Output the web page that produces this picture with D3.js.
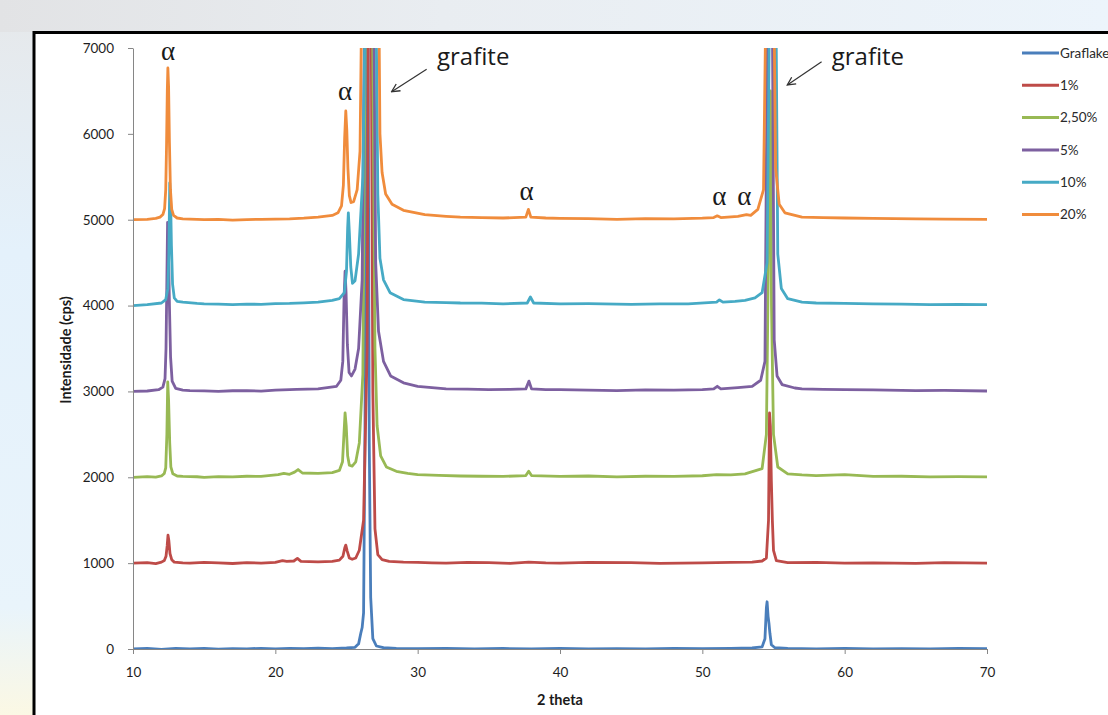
<!DOCTYPE html>
<html>
<head>
<meta charset="utf-8">
<script src="https://cdn.jsdelivr.net/npm/d3@7"></script>
<style>
  body { margin: 0; overflow: hidden; background: #ffffff; }
  svg { display: block; }
</style>
</head>
<body>
<svg id="chart" width="1108" height="715"></svg>
<script>
// series names and colours, in drawing order
var seriesNames = ['Graflake', '1%', '2,50%', '5%', '10%', '20%'];
var seriesColors = ['#4a7ebb', '#be4b48', '#98b954', '#7d60a0', '#46aac5', '#f08c3c'];

// [2 theta, cps]; 8000 means the peak runs past the top
var graflake = [[10,0],[11,8],[12,-4],[13,6],[14,0],[15,7],[16,-3],[17,5],[18,2],[19,8],[20,0],[21,6],[22,3],[23,9],[24,5],[25,12],
  [25.6,20],[25.85,60],[26.0,180],[26.1,250],[26.2,420],[26.3,2600],[26.4,8000],[26.5,8000],[26.6,2400],[26.7,600],[26.85,120],
  [27.1,35],[27.6,15],[28.5,8],[30,3],[32,8],[34,0],[36,6],[38,2],[40,7],[42,0],[44,5],[46,2],[48,7],[50,3],[52,8],[53.5,12],
  [54.2,25],[54.4,120],[54.5,480],[54.55,550],[54.62,380],[54.68,300],[54.75,180],[54.85,50],[55.1,15],[56,6],[58,2],[60,7],
  [62,0],[64,5],[66,2],[68,6],[70,3]];

var pct1 = [[10,1000],[11,1005],[11.6,995],[12,1012],[12.2,1030],[12.32,1080],[12.4,1200],[12.46,1326],[12.52,1260],[12.6,1110],
  [12.72,1040],[12.9,1012],[13.5,1003],[14,1000],[15,1008],[16,1002],[17,996],[18,1006],[19,1000],[20,1010],[20.5,1030],
  [20.8,1020],[21.3,1025],[21.55,1055],[21.8,1020],[23,1015],[24,1020],[24.5,1035],[24.75,1080],[24.88,1180],[24.95,1210],
  [25.05,1140],[25.2,1060],[25.4,1045],[25.65,1060],[25.9,1150],[26.2,1500],[26.45,3500],[26.55,8000],[26.72,8000],[26.85,3000],
  [27.0,1400],[27.2,1100],[27.5,1040],[28,1020],[29,1012],[30,1010],[31,1004],[32,1000],[33.5,1008],[35,1005],[36.5,998],
  [37.8,1012],[39,1002],[40,1000],[42,1008],[45,1005],[47,998],[50,1003],[52,1008],[53.5,1012],[54.2,1025],[54.5,1060],
  [54.65,1500],[54.72,2750],[54.78,2600],[54.85,1950],[54.92,1500],[55.0,1150],[55.2,1030],[56,1005],[58,1008],[60,1000],
  [62,1004],[65,998],[67,1005],[70,1000]];

var pct2_5 = [[10,2000],[11,2008],[11.6,2002],[12,2015],[12.2,2045],[12.3,2110],[12.38,2500],[12.44,3110],[12.5,2900],[12.58,2400],
  [12.66,2120],[12.8,2040],[13.1,2015],[13.5,2010],[14.5,2006],[15,2000],[16,2008],[17,2005],[18,2012],[19,2010],[20.2,2030],
  [20.6,2045],[21,2035],[21.35,2060],[21.6,2090],[21.9,2050],[23,2045],[24,2055],[24.5,2080],[24.72,2180],[24.82,2500],
  [24.9,2750],[24.98,2600],[25.08,2250],[25.2,2140],[25.4,2130],[25.65,2180],[25.9,2400],[26.15,3200],[26.35,8000],
  [26.8,8000],[27.0,3500],[27.15,2600],[27.4,2250],[27.8,2120],[28.5,2070],[29.3,2045],[30,2030],[31.5,2022],[33,2015],
  [34.5,2012],[36,2010],[37.6,2020],[37.8,2070],[38.0,2020],[40,2010],[42,2015],[44,2005],[46,2012],[48,2010],[50,2018],
  [51,2030],[52,2028],[53,2040],[54.2,2100],[54.5,2500],[54.64,4500],[54.7,6500],[54.78,6500],[54.86,4000],[55.0,2500],
  [55.3,2120],[56,2040],[57,2028],[58,2020],[60,2030],[62,2010],[64,2012],[66,2005],[68,2008],[70,2005]];

var pct5 = [[10,3000],[11,3005],[11.8,3020],[12.1,3050],[12.25,3150],[12.32,3500],[12.38,4300],[12.43,4970],[12.49,4750],
  [12.56,4000],[12.64,3400],[12.75,3120],[13,3035],[13.5,3015],[14,3010],[15,3006],[16,3000],[17,3008],[18,3010],[19,3004],
  [20,3015],[21.5,3025],[23,3030],[24.3,3060],[24.6,3130],[24.74,3350],[24.83,4100],[24.9,4400],[24.97,4150],[25.06,3550],
  [25.18,3220],[25.35,3180],[25.6,3260],[25.85,3500],[26.1,4300],[26.3,8000],[26.9,8000],[27.05,4500],[27.25,3700],[27.6,3350],
  [28.1,3180],[29,3100],[30,3060],[31,3045],[32,3030],[33.5,3028],[35,3020],[36.5,3025],[37.6,3030],[37.82,3120],[38.0,3030],
  [39,3022],[40,3020],[42,3015],[44,3010],[46,3018],[48,3015],[50,3022],[50.8,3030],[51.05,3060],[51.3,3030],[52.5,3045],
  [53.5,3060],[54.1,3130],[54.4,3350],[54.6,8000],[54.9,8000],[55.05,3600],[55.25,3180],[55.6,3080],[56.5,3040],[57,3030],
  [58.5,3025],[60,3020],[62,3018],[65,3010],[67,3012],[70,3005]];

var pct10 = [[10,4000],[11,4010],[12,4030],[12.3,4070],[12.45,4200],[12.52,4600],[12.58,5430],[12.64,5250],[12.7,4700],[12.78,4250],
  [12.9,4090],[13.1,4050],[13.5,4040],[14.5,4025],[15,4020],[16,4018],[17,4010],[18,4016],[19,4015],[20,4022],[21,4025],
  [22,4032],[23,4040],[24,4060],[24.5,4080],[24.85,4150],[25.0,4400],[25.08,4900],[25.13,5080],[25.2,4850],[25.3,4450],
  [25.42,4260],[25.6,4290],[25.85,4600],[26.15,5500],[26.35,8000],[27.05,8000],[27.2,5300],[27.35,4550],[27.6,4300],
  [28.06,4150],[29,4070],[30.5,4040],[32,4035],[33,4030],[34.5,4028],[36,4020],[37.7,4030],[37.92,4100],[38.15,4030],
  [40,4020],[42,4022],[45,4015],[47,4020],[49,4020],[51,4040],[51.2,4065],[51.45,4040],[52.3,4048],[53,4060],[53.7,4090],
  [54.2,4150],[54.55,4500],[54.75,8000],[55.15,8000],[55.3,4600],[55.55,4200],[56,4080],[57,4040],[58,4030],[60,4025],
  [62,4020],[64,4018],[66,4010],[68,4014],[70,4010]];

var pct20 = [[10,5000],[11,5005],[11.6,5015],[11.9,5030],[12.1,5060],[12.22,5130],[12.3,5350],[12.36,5900],[12.41,6500],
  [12.45,6767],[12.5,6550],[12.56,5900],[12.63,5350],[12.72,5120],[12.85,5050],[13.1,5020],[13.5,5010],[14,5006],[15,5000],
  [16,5004],[17,4995],[18,5002],[19,5005],[20,5008],[21,5010],[22,5018],[23,5030],[24,5050],[24.4,5080],[24.65,5160],
  [24.78,5400],[24.87,5950],[24.95,6266],[25.02,6050],[25.1,5600],[25.2,5280],[25.32,5200],[25.5,5210],[25.75,5350],
  [25.95,5800],[26.1,8000],[27.25,8000],[27.35,6000],[27.5,5550],[27.75,5300],[28.2,5180],[29,5110],[30.5,5060],[32,5040],
  [33,5030],[34.5,5025],[36,5020],[37.6,5030],[37.78,5120],[37.95,5030],[39,5020],[40,5015],[42,5012],[44,5005],[46,5012],
  [48,5010],[50,5018],[50.8,5025],[51.05,5045],[51.3,5025],[52.5,5040],[53.1,5060],[53.4,5050],[53.9,5120],[54.3,5350],
  [54.5,8000],[55.0,8000],[55.15,5600],[55.4,5180],[55.8,5080],[57,5030],[58.5,5025],[60,5020],[62,5015],[65,5010],
  [67,5008],[70,5005]];

var seriesData = [graflake, pct1, pct2_5, pct5, pct10, pct20];

var xTicks = [10, 20, 30, 40, 50, 60, 70];
var yTicks = [0, 1000, 2000, 3000, 4000, 5000, 6000, 7000];

// annotations: [2 theta, cps]
var alphaLabels = [[12.46, 6953], [24.9, 6487], [37.66, 5323], [51.19, 5264], [52.95, 5264]];
var grafiteLabels = [[31.36, 6802], [59.09, 6802]];
// arrows: [x1, y1, x2, y2] from the text towards the peak
var grafiteArrows = [[30.63, 6752, 28.17, 6491], [58.38, 6840, 55.97, 6569]];

var svg = d3.select('#chart');
var defs = svg.append('defs');

// soft slide background round the chart frame
var bgTop = defs.append('linearGradient').attr('id', 'bgTop');
bgTop.append('stop').attr('offset', '0%').attr('stop-color', '#e2e3e5');
bgTop.append('stop').attr('offset', '40%').attr('stop-color', '#e9edf1');
bgTop.append('stop').attr('offset', '100%').attr('stop-color', '#ecf4fb');
var bgLeft = defs.append('linearGradient').attr('id', 'bgLeft')
  .attr('x1', 0).attr('y1', 0).attr('x2', 0).attr('y2', 1);
bgLeft.append('stop').attr('offset', '0%').attr('stop-color', '#e6e8ea');
bgLeft.append('stop').attr('offset', '35%').attr('stop-color', '#e4f1fb');
bgLeft.append('stop').attr('offset', '85%').attr('stop-color', '#e9f4fb');
bgLeft.append('stop').attr('offset', '100%').attr('stop-color', '#fbf8e4');

svg.append('rect').attr('width', 1108).attr('height', 715).attr('fill', 'url(#bgLeft)');
svg.append('rect').attr('width', 1108).attr('height', 32).attr('fill', 'url(#bgTop)');

// chart frame, running off the right and bottom edges
svg.append('rect')
  .attr('x', 34).attr('y', 32.5)
  .attr('width', 1120).attr('height', 720)
  .attr('fill', '#ffffff')
  .attr('stroke', '#000000')
  .attr('stroke-width', 3);

var margin = { left: 133, top: 48, right: 987, bottom: 649 };

var x = d3.scaleLinear().domain([10, 70]).range([margin.left, margin.right]);
var y = d3.scaleLinear().domain([0, 7000]).range([margin.bottom, margin.top]);

defs.append('clipPath').attr('id', 'plotClip')
  .append('rect')
  .attr('x', margin.left).attr('y', margin.top)
  .attr('width', margin.right - margin.left)
  .attr('height', margin.bottom - margin.top);

var line = d3.line()
  .x(function(d) { return x(d[0]); })
  .y(function(d) { return y(d[1]); });

svg.append('g')
  .attr('clip-path', 'url(#plotClip)')
  .selectAll('path')
  .data(seriesData)
  .enter()
  .append('path')
    .attr('d', line)
    .attr('fill', 'none')
    .attr('stroke', function(d, i) { return seriesColors[i]; })
    .attr('stroke-width', 2.8)
    .attr('stroke-linejoin', 'round');

// axes
var axisFont = 'Lato, "Open Sans", sans-serif';

var yAxis = svg.append('g')
  .attr('transform', 'translate(' + margin.left + ',0)')
  .call(d3.axisLeft(y).tickValues(yTicks).tickFormat(d3.format('d'))
    .tickSize(5).tickSizeOuter(0).tickPadding(14));

var xAxis = svg.append('g')
  .attr('transform', 'translate(0,' + margin.bottom + ')')
  .call(d3.axisBottom(x).tickValues(xTicks).tickFormat(d3.format('d'))
    .tickSize(5).tickSizeOuter(0).tickPadding(13));

[xAxis, yAxis].forEach(function(ax) {
  ax.select('.domain').attr('stroke', '#868686').attr('stroke-width', 1);
  ax.selectAll('.tick line').attr('stroke', '#868686');
  ax.selectAll('.tick text')
    .attr('fill', '#1e1e1e')
    .style('font-family', axisFont)
    .style('font-size', '13.5px');
});

svg.append('text')
  .attr('transform', 'translate(71,350) rotate(-90)')
  .attr('text-anchor', 'middle')
  .style('font-family', axisFont)
  .style('font-size', '14.5px')
  .style('font-weight', 'bold')
  .attr('fill', '#1a1a1a')
  .text('Intensidade (cps)');

svg.append('text')
  .attr('x', (margin.left + margin.right) / 2)
  .attr('y', 705)
  .attr('text-anchor', 'middle')
  .style('font-family', axisFont)
  .style('font-size', '14.5px')
  .style('font-weight', 'bold')
  .attr('fill', '#1a1a1a')
  .text('2 theta');

// annotations
svg.selectAll('.alpha')
  .data(alphaLabels)
  .enter()
  .append('text')
    .attr('class', 'alpha')
    .attr('x', function(d) { return x(d[0]); })
    .attr('y', function(d) { return y(d[1]); })
    .attr('dy', '0.3em')
    .attr('text-anchor', 'middle')
    .style('font-family', '"Liberation Serif", "DejaVu Serif", serif')
    .style('font-size', '27px')
    .attr('fill', '#1a1a1a')
    .text('α');

svg.selectAll('.grafite')
  .data(grafiteLabels)
  .enter()
  .append('text')
    .attr('class', 'grafite')
    .attr('x', function(d) { return x(d[0]); })
    .attr('y', function(d) { return y(d[1]); })
    .style('font-family', '"Open Sans", sans-serif')
    .style('font-size', '24px')
    .attr('fill', '#1a1a1a')
    .text('grafite');

defs.append('marker')
  .attr('id', 'arrowHead')
  .attr('viewBox', '0 0 10 10')
  .attr('refX', 9).attr('refY', 5)
  .attr('markerWidth', 10).attr('markerHeight', 10)
  .attr('markerUnits', 'userSpaceOnUse')
  .attr('orient', 'auto')
  .append('path')
    .attr('d', 'M1,1 L9,5 L1,9')
    .attr('fill', 'none')
    .attr('stroke', '#333333')
    .attr('stroke-width', 1.3);

svg.selectAll('.arrow')
  .data(grafiteArrows)
  .enter()
  .append('line')
    .attr('class', 'arrow')
    .attr('x1', function(d) { return x(d[0]); })
    .attr('y1', function(d) { return y(d[1]); })
    .attr('x2', function(d) { return x(d[2]); })
    .attr('y2', function(d) { return y(d[3]); })
    .attr('stroke', '#333333')
    .attr('stroke-width', 1.2)
    .attr('marker-end', 'url(#arrowHead)');

// legend
var legend = svg.append('g').attr('transform', 'translate(1022,53)');
var rows = legend.selectAll('g')
  .data(seriesNames)
  .enter()
  .append('g')
    .attr('transform', function(d, i) { return 'translate(0,' + (i * 32.3) + ')'; });

rows.append('line')
  .attr('x1', 0).attr('x2', 37)
  .attr('stroke', function(d, i) { return seriesColors[i]; })
  .attr('stroke-width', 3);

rows.append('text')
  .attr('x', 38)
  .attr('dy', '0.35em')
  .style('font-family', axisFont)
  .style('font-size', '13.5px')
  .attr('fill', '#2a2a2a')
  .text(function(d) { return d; });
</script>
</body>
</html>
